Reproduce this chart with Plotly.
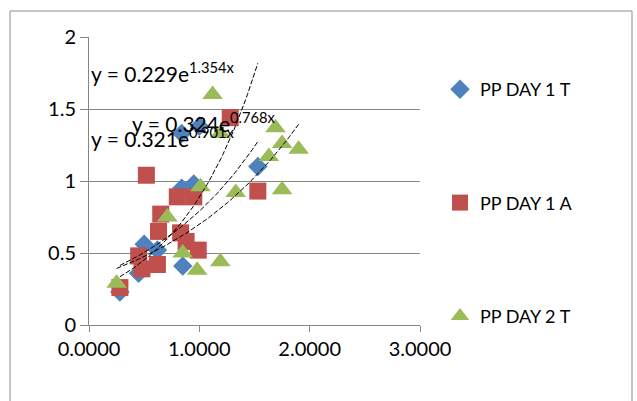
import numpy as np
import plotly.graph_objects as go

# Series values (x, y)
day1_t_x = [0.28, 0.45, 0.50, 0.62, 0.85, 0.84, 0.95, 0.84, 1.00, 1.53]
day1_t_y = [0.23, 0.36, 0.56, 0.52, 0.41, 0.95, 0.98, 1.33, 1.38, 1.10]

day1_a_x = [0.28, 0.45, 0.48, 0.62, 0.63, 0.65, 0.83, 0.88, 0.99, 0.80, 0.95, 0.52, 1.28, 1.53]
day1_a_y = [0.26, 0.48, 0.39, 0.42, 0.65, 0.77, 0.64, 0.58, 0.52, 0.89, 0.89, 1.04, 1.44, 0.93]

day2_t_x = [0.25, 0.71, 0.85, 0.98, 1.19, 1.01, 1.33, 1.12, 1.19, 1.63, 1.69, 1.75, 1.90, 1.75]
day2_t_y = [0.29, 0.75, 0.50, 0.38, 0.44, 0.96, 0.92, 1.60, 1.33, 1.17, 1.37, 1.26, 1.22, 0.94]

series_names = ["PP DAY 1 T", "PP DAY 1 A", "PP DAY 2 T"]

# Exponential trendline coefficients  y = a * exp(b x)
trend_a = [0.229, 0.321, 0.324]
trend_b = [1.354, 0.901, 0.768]

x_ticks = [0, 1, 2, 3]
y_ticks = [0, 0.5, 1, 1.5, 2]

FONT = "Lato"
colors = ["#4F81BD", "#C0504D", "#9BBB59"]
symbols = ["diamond", "square", "triangle-up"]
sizes = [15, 17, 18]

xs = [day1_t_x, day1_a_x, day2_t_x]
ys = [day1_t_y, day1_a_y, day2_t_y]

fig = go.Figure()

for i in range(3):
    fig.add_trace(go.Scatter(
        x=xs[i], y=ys[i], mode="markers", name=series_names[i],
        legendgroup=series_names[i],
        marker=dict(symbol=symbols[i], size=sizes[i], color=colors[i],
                    line=dict(width=0)),
    ))

for i in range(3):
    xx = np.linspace(min(xs[i]), max(xs[i]), 80)
    fig.add_trace(go.Scatter(
        x=xx, y=trend_a[i] * np.exp(trend_b[i] * xx), mode="lines",
        showlegend=False, hoverinfo="skip",
        line=dict(color="black", width=1, dash="5px,2px"),
    ))

# Equation labels
label_pos = [(0.0, 1.757), (0.0, 1.305), (0.37, 1.41)]
for i in range(3):
    lx, ly = label_pos[i]
    fig.add_annotation(
        x=lx, y=ly, xref="x", yref="y", showarrow=False,
        xanchor="left", yanchor="middle",
        text=f"y = {trend_a[i]:.3f}e<sup>{trend_b[i]:.3f}x</sup>",
        font=dict(family=FONT, size=21, color="black"),
    )

# Outer chart border
L, T, W, H = 89, 37, 331, 288
fig.add_shape(type="rect", xref="paper", yref="paper",
              x0=(10 - L) / W, x1=(632 - L) / W,
              y0=(T + H - 420) / H, y1=(T + H - 11) / H,
              line=dict(color="#8c8c8c", width=1), layer="below")

fig.update_layout(
    width=637, height=401,
    margin=dict(l=L, r=637 - L - W, t=T, b=401 - T - H),
    paper_bgcolor="white", plot_bgcolor="white",
    font=dict(family=FONT, size=20, color="black"),
    showlegend=True,
    legend=dict(x=(440 - L) / W, y=(T + H - 71) / H, xanchor="left", yanchor="top",
                tracegroupgap=87, font=dict(family=FONT, size=18, color="black"),
                bgcolor="rgba(0,0,0,0)", itemwidth=30),
    xaxis=dict(range=[0, 3], tickvals=x_ticks, tickformat=".4f",
               showgrid=False, zeroline=False, showline=True,
               linecolor="#868686", linewidth=1, ticks="outside",
               ticklen=6, tickcolor="#868686", tickfont=dict(size=20)),
    yaxis=dict(range=[0, 2], tickvals=y_ticks, showgrid=True,
               gridcolor="#868686", gridwidth=1, zeroline=False,
               showline=True, linecolor="#868686", linewidth=1,
               ticks="outside", ticklen=8, tickcolor="#868686",
               tickfont=dict(size=20)),
)

fig.write_html("out.html")
